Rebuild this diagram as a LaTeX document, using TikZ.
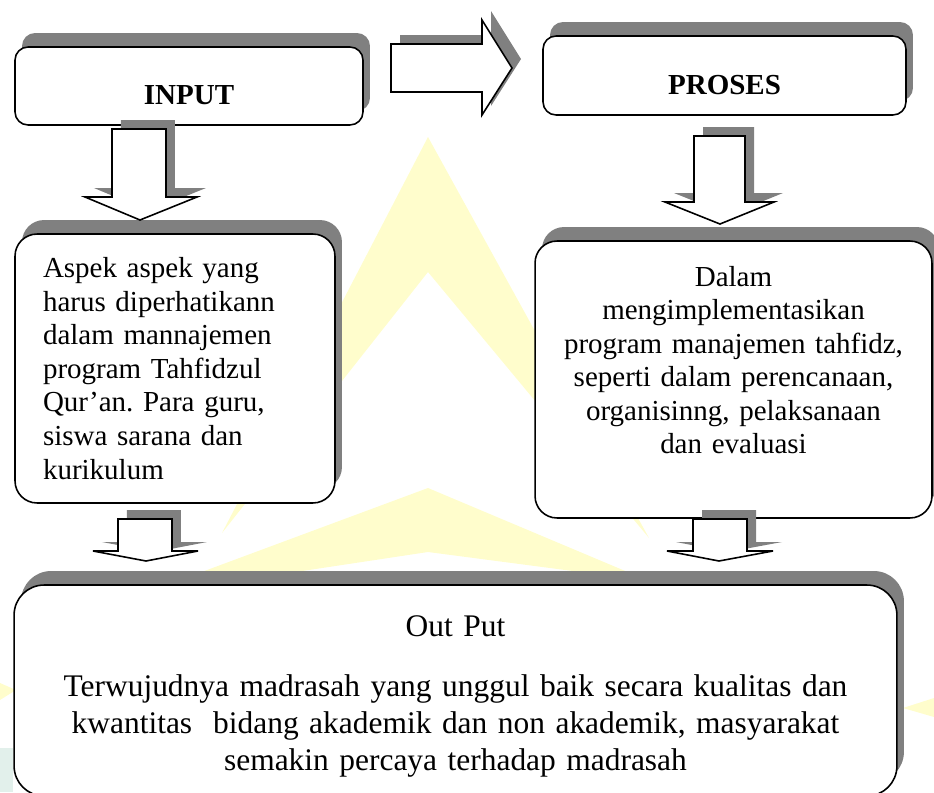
\documentclass[tikz,border=0pt]{standalone}
\usepackage{fontspec}
\setmainfont{Liberation Serif}
\usetikzlibrary{shadows}
\definecolor{wmyellow}{RGB}{255,253,204}
\definecolor{wmteal}{RGB}{226,240,235}
\frenchspacing

\begin{document}
\begin{tikzpicture}[x=0.02cm, y=-0.02cm,
  box/.style={draw, fill=white, line width=0.9pt, inner sep=0pt,
    font=\fontsize{16.5}{19.1}\selectfont,
    drop shadow={shadow xshift=0.14cm, shadow yshift=0.28cm, fill=gray, opacity=1}},
  head/.style={box, font=\fontsize{16.5}{19.1}\selectfont\bfseries, rounded corners=0.26cm, text depth=0pt},
  blockarr/.style={draw, fill=white, line width=0.9pt,
    drop shadow={shadow xshift=0.18cm, shadow yshift=0.18cm, fill=gray, opacity=1}}
]
\useasboundingbox (0,0) rectangle (934,792);
% watermark
\fill[wmyellow] (428,137) -- (222,533) -- (428,272) -- (649,538) -- cycle;
\fill[wmyellow] (428,488) -- (137,596) -- (428,552) -- (649,581) -- cycle;
\fill[wmyellow] (0,683) -- (16,690) -- (0,700) -- cycle;
\fill[wmyellow] (934,698) -- (903,708) -- (934,717) -- cycle;
\fill[wmteal] (0,748) rectangle (13,792);

% boxes
\node[head, minimum width=6.96cm, minimum height=1.56cm, text height=0.72cm] (input) at (189,86) {INPUT};
\node[head, minimum width=7.26cm, minimum height=1.58cm, text height=0.74cm] (proses) at (724.5,75.5) {PROSES};
\node[box, rounded corners=0.44cm, minimum width=6.4cm, minimum height=5.38cm,
  inner xsep=0.56cm, text width=5.28cm, align=left] (aspek) at (175,368.5)
  {Aspek aspek yang\\ harus diperhatikann\\ dalam mannajemen\\ program Tahfidzul\\ Qur’an. Para guru,\\ siswa sarana dan\\ kurikulum};
\node[box, rounded corners=0.44cm, minimum width=7.94cm, minimum height=5.54cm,
  text width=7.5cm, align=center, text depth=4.14cm] (dalam) at (733.5,379.5)
  {Dalam\\ mengimplementasikan\\ program manajemen tahfidz,\\ seperti dalam perencanaan,\\ organisinng, pelaksanaan\\ dan evaluasi};
\node[box, rounded corners=0.6cm, minimum width=17.66cm, minimum height=4.22cm,
  font=\fontsize{17.9}{21.1}\selectfont, text width=16.6cm, align=center, text depth=2.58cm] (output) at (455.5,690.5)
  {Out Put\\[13pt] Terwujudnya madrasah yang unggul baik secara kualitas dan\\ kwantitas~ bidang akademik dan non akademik, masyarakat\\ semakin percaya terhadap madrasah};

% block arrows
\draw[blockarr] (112,129) -- (166,129) -- (166,197) -- (197,197) -- (140,220) -- (85,197) -- (112,197) -- cycle;
\draw[blockarr] (391,44) -- (482,44) -- (482,20) -- (512,68) -- (482,115) -- (482,92) -- (391,92) -- cycle;
\draw[blockarr] (694,136) -- (745,136) -- (745,202) -- (774,202) -- (720,224) -- (665,202) -- (694,202) -- cycle;
\draw[blockarr] (118,519) -- (172,519) -- (172,551) -- (198,551) -- (146,561) -- (93,551) -- (118,551) -- cycle;
\draw[blockarr] (693,519) -- (747,519) -- (747,551) -- (773,551) -- (719,561) -- (667,551) -- (693,551) -- cycle;
\end{tikzpicture}
\end{document}
